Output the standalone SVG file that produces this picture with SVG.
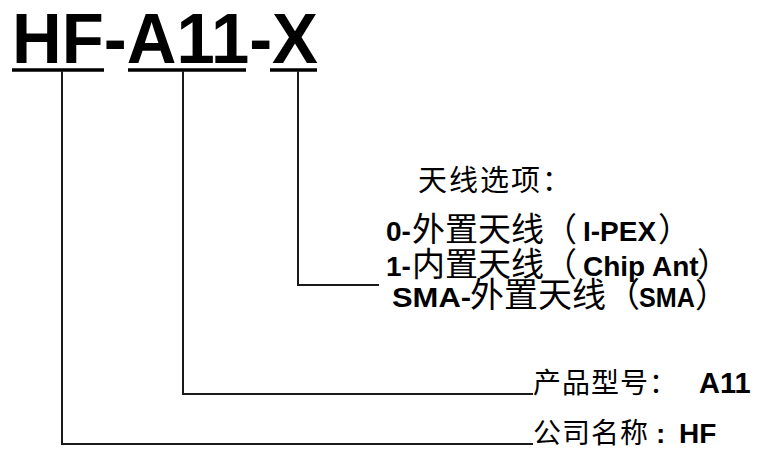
<svg xmlns="http://www.w3.org/2000/svg" width="758" height="458" viewBox="0 0 758 458">
<style>
.lat{font-family:"Liberation Sans",Arial,"Noto Sans CJK SC",sans-serif;font-weight:bold;fill:#000}
.cjk{font-family:"Noto Sans CJK SC","Liberation Sans",sans-serif;font-weight:normal;fill:#000}
.ln{stroke:#1a1a1a;stroke-width:2;fill:none}
.ul{stroke:#000;stroke-width:3.4;fill:none}
</style>
<rect width="758" height="458" fill="#fff"/>
<g id="title">
<text class="lat" x="12" y="63" font-size="70" textLength="306" lengthAdjust="spacingAndGlyphs">HF-A11-X</text>
<line class="ul" x1="12" y1="70" x2="104" y2="70"/>
<line class="ul" x1="128" y1="70" x2="246" y2="70"/>
<line class="ul" x1="270" y1="70" x2="317" y2="70"/>
</g>
<g id="connectors">
<polyline class="ln" points="62,71 62,444 533,444"/>
<polyline class="ln" points="183,71 183,394 533,394"/>
<polyline class="ln" points="298,71 298,285 379,285"/>
</g>
<g id="antenna-options">
<text class="cjk" x="418" y="191" font-size="29" letter-spacing="2">天线选项：</text>
<text x="386" y="241"><tspan class="lat" font-size="28">0-</tspan><tspan class="cjk" x="412" font-size="33">外置天线（</tspan><tspan class="lat" x="583" font-size="28">I-PEX</tspan><tspan class="cjk" x="658" font-size="33">）</tspan></text>
<text x="386" y="276"><tspan class="lat" font-size="28">1-</tspan><tspan class="cjk" x="412" font-size="33">内置天线（</tspan><tspan class="lat" x="583" font-size="28">Chip Ant</tspan><tspan class="cjk" x="697" font-size="33">）</tspan></text>
<text x="392" y="307"><tspan class="lat" font-size="28" textLength="79" lengthAdjust="spacingAndGlyphs">SMA-</tspan><tspan class="cjk" x="470" font-size="34">外置天线（</tspan><tspan class="lat" x="639" font-size="28" textLength="56" lengthAdjust="spacingAndGlyphs">SMA</tspan><tspan class="cjk" x="695" font-size="33">）</tspan></text>
</g>
<g id="model">
<text x="533" y="393"><tspan class="cjk" font-size="28" letter-spacing="1">产品型号：</tspan><tspan class="lat" x="699" font-size="29">A11</tspan></text>
</g>
<g id="company">
<text x="533" y="443"><tspan class="cjk" font-size="28" letter-spacing="1">公司名称</tspan><tspan class="lat" x="656" font-size="28">:</tspan><tspan class="lat" x="679" font-size="28">HF</tspan></text>
</g>
</svg>
